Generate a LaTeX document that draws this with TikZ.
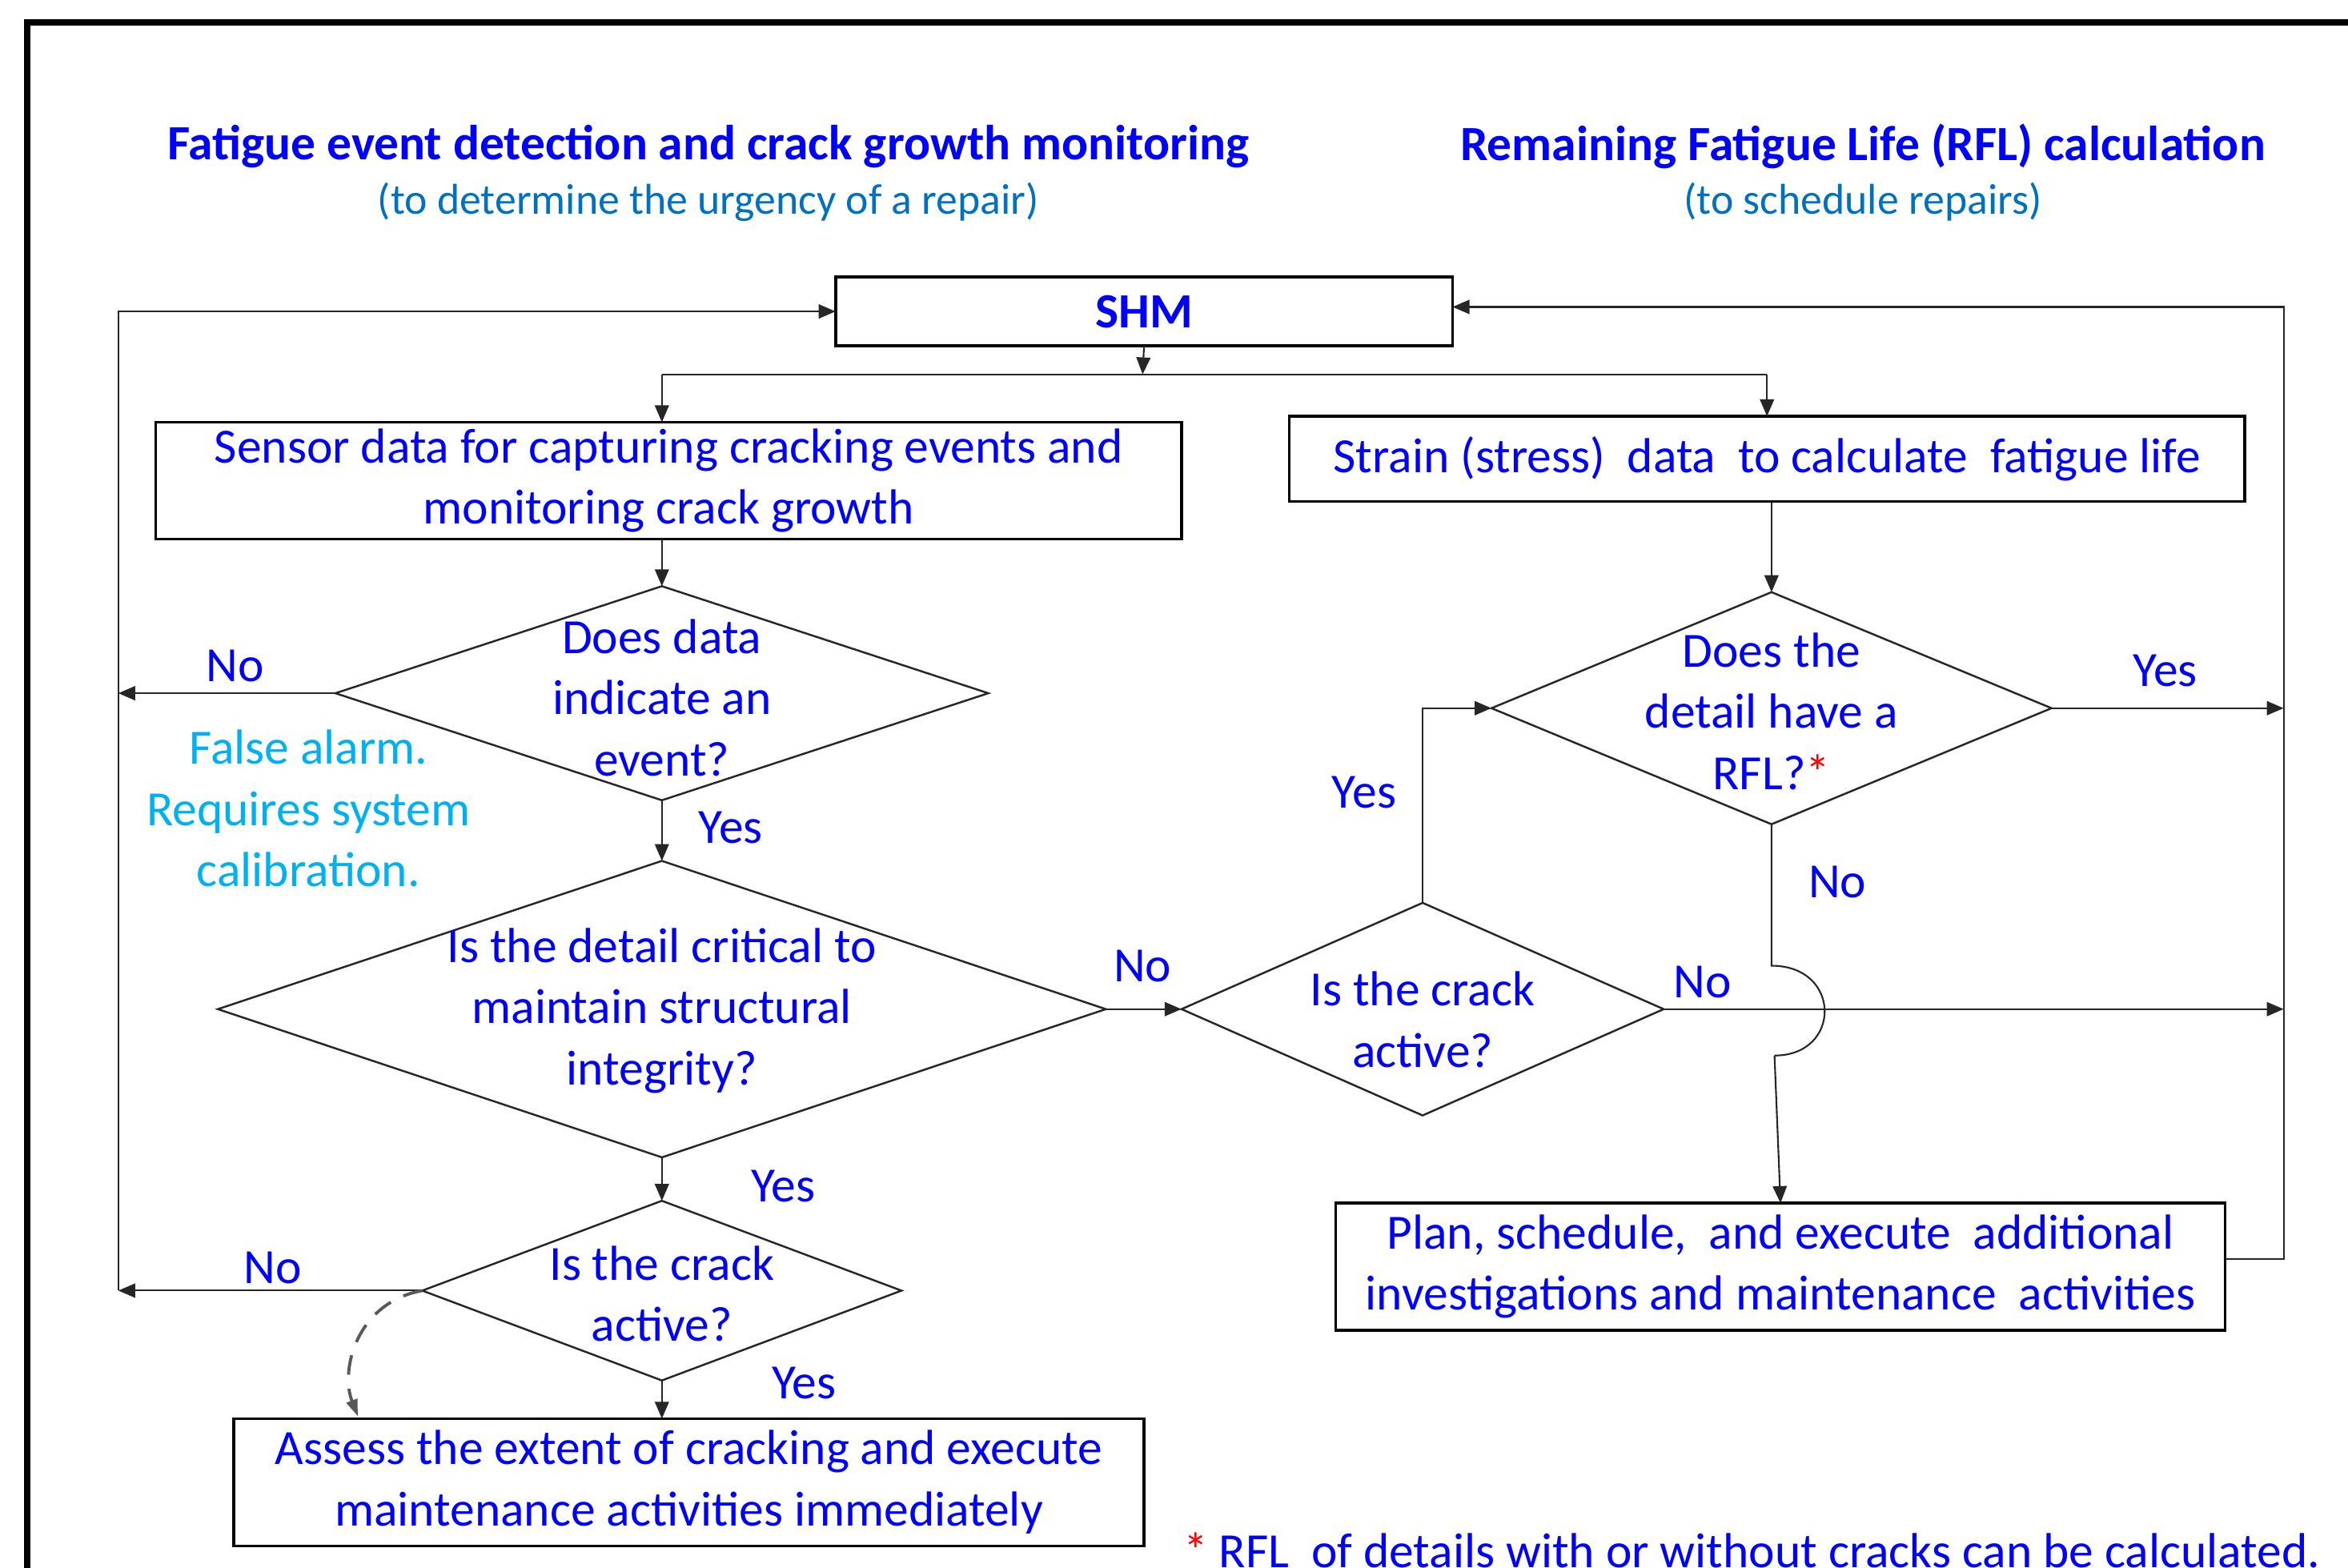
\documentclass[tikz,border=0pt]{standalone}
\usepackage{fontspec}
\setmainfont{Carlito}
\usepackage{tikz}
\usetikzlibrary{arrows,arrows.meta,shapes,positioning,calc}
\definecolor{qblue}{RGB}{0,0,255}
\definecolor{subblue}{RGB}{0,112,192}
\definecolor{alarmblue}{RGB}{0,176,240}
\definecolor{darkline}{RGB}{38,38,38}
\definecolor{dashgray}{RGB}{89,89,89}
\newcommand{\pxu}{0.018705cm}
\tikzstyle{stepbox}=[rectangle,draw=black,line width=1pt,align=center,text=qblue,inner sep=0pt,outer sep=0pt]
\tikzstyle{decision}=[diamond,draw=darkline,line width=0.7pt,inner sep=0pt,outer sep=0pt]
\tikzstyle{qtext}=[align=center,text=qblue,inner sep=0pt]
\tikzstyle{answer}=[text=qblue,inner sep=0pt]
\tikzstyle{flow}=[draw=darkline,line width=0.6pt]

\begin{document}
\begin{tikzpicture}[x=\pxu,y=-\pxu,font=\fontsize{17.5}{21.8}\selectfont,>={Triangle[length=6pt,width=5pt]}]
      \useasboundingbox (0,0) rectangle (1568,1047);
      \draw[line width=2.3pt] (18,1070) -- (18,15) -- (1590,15);

      % headings
      \node[text=qblue,font=\fontsize{17.5}{21.8}\selectfont\bfseries] at (473,98) (lhead) {Fatigue event detection and crack growth monitoring};
      \node[text=subblue,font=\fontsize{15.3}{19}\selectfont] at (473,135) (lsub) {(to determine the urgency of a repair)};
      \node[text=qblue,font=\fontsize{17.5}{21.8}\selectfont\bfseries] at (1244,98) (rhead) {Remaining Fatigue Life (RFL) calculation};
      \node[text=subblue,font=\fontsize{15.3}{19}\selectfont] at (1244,135) (rsub) {(to schedule repairs)};

      % boxes
      \node[stepbox,font=\fontsize{17.5}{21.8}\selectfont\bfseries,minimum width=412*\pxu,minimum height=46*\pxu] at (764,208) (shm) {SHM};
      \node[stepbox,minimum width=685*\pxu,minimum height=78*\pxu] at (446.5,321) (sensor) {Sensor data for capturing cracking events and\\monitoring crack growth};
      \node[stepbox,minimum width=638*\pxu,minimum height=57*\pxu] at (1180,306.5) (strain) {Strain (stress)~ data~ to calculate~ fatigue life};
      \node[stepbox,minimum width=594*\pxu,minimum height=85*\pxu] at (1189,846) (plan) {Plan, schedule,~ and execute~ additional\\investigations and maintenance~ activities};
      \node[stepbox,minimum width=608*\pxu,minimum height=85*\pxu] at (460,990) (assess) {Assess the extent of cracking and execute\\maintenance activities immediately};

      % decisions
      \node[decision,minimum width=436*\pxu,minimum height=143*\pxu] at (442,463) (event) {};
      \node[decision,minimum width=593*\pxu,minimum height=198*\pxu] at (442,674) (critical) {};
      \node[decision,minimum width=322*\pxu,minimum height=142*\pxu] at (950,674) (activer) {};
      \node[decision,minimum width=374*\pxu,minimum height=155*\pxu] at (1183,473) (rfl) {};
      \node[decision,minimum width=320*\pxu,minimum height=120*\pxu] at (442,862) (activel) {};
      \node[qtext] at (442,466) (eventq) {Does data\\indicate an\\event?};
      \node[qtext] at (442,675) (criticalq) {Is the detail critical to\\maintain structural\\integrity?};
      \node[qtext] at (950,681) (activerq) {Is the crack\\active?};
      \node[qtext] at (1183,475) (rflq) {Does the\\detail have a\\RFL?\textcolor{red}{*}};
      \node[qtext] at (442,864) (activelq) {Is the crack\\active?};

      % loop corners
      \coordinate (split) at (763,250);
      \coordinate (lb) at (79,862);
      \coordinate (lt) at (79,208);
      \coordinate (rb) at (1525,841);
      \coordinate (rt) at (1525,205);
      \coordinate (jumpa) at (1183,645);
      \coordinate (jumpb) at (1185,705);
      \coordinate (dashend) at (239,946);

      \draw[flow,->] (shm.south) -- (split);
      \draw[flow] (event.north |- split) -- (strain.north |- split);
      \draw[flow,->] (event.north |- split) -- (event.north |- sensor.north);
      \draw[flow,->] (strain.north |- split) -- (strain.north);
      \draw[flow,->] (event.north |- sensor.south) -- (event.north);
      \draw[flow,->] (rfl.north |- strain.south) -- (rfl.north);
      \draw[flow,->] (event.south) -- (critical.north);
      \draw[flow,->] (critical.south) -- (activel.north);
      \draw[flow,->] (activel.south) -- (activel.south |- assess.north);
      \draw[flow,->] (critical.east) -- (activer.west);
      \draw[flow,->] (activer.north) -- (activer.north |- rfl.west) -- (rfl.west);
      \draw[flow,->] (event.west) -- (event.west -| lb);
      \draw[flow,->] (activel.west) -- (activel.west -| lb);
      \draw[flow,->] (lb) -- (lt) -- (shm.west);
      \draw[flow,->] (rfl.east) -- (rfl.east -| rb);
      \draw[flow,->] (activer.east) -- (activer.east -| rb);
      \draw[flow,->] (plan.east |- rb) -- (rb) -- (rt) -- (shm.east |- rt);
      \draw[flow] (rfl.south) -- (jumpa) .. controls (1230,645) and (1230,705) .. (jumpb);
      \draw[flow,->] (jumpb) -- (plan.north);
      \draw[draw=dashgray,line width=1.1pt,dash pattern=on 7pt off 5pt,-{Triangle[length=6pt,width=4pt]}] (activel.west) .. controls (238,870) and (227,915) .. (dashend);

      % answers
      \node[answer] at (157,445) (no1) {No};
      \node[answer] at (488,553) (yes1) {Yes};
      \node[answer] at (763,645) (no2) {No};
      \node[answer] at (911,529) (yes2) {Yes};
      \node[answer] at (1137,656) (no3) {No};
      \node[answer] at (1446,448) (yes3) {Yes};
      \node[answer] at (1227,589) (no4) {No};
      \node[answer] at (523,792) (yes4) {Yes};
      \node[answer] at (182,847) (no5) {No};
      \node[answer] at (537,924) (yes5) {Yes};
      \node[align=center,text=alarmblue,inner sep=0pt] at (206,540) (alarm) {False alarm.\\Requires system\\calibration.};

      \node[anchor=base west,text=qblue,inner sep=0pt] at (790,1047) (note) {\textcolor{red}{*} RFL~ of details with or without cracks can be calculated.};
\end{tikzpicture}
\end{document}
